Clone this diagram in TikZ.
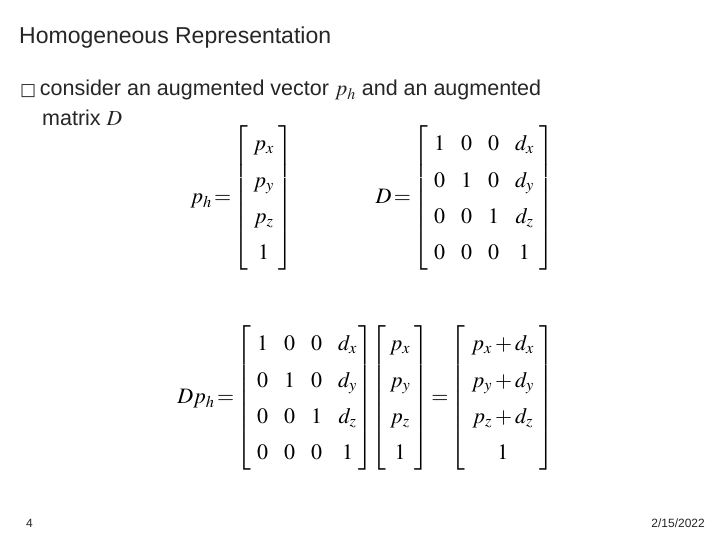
\documentclass[tikz,border=0pt]{standalone}
\usepackage{amsmath}
\usepackage{mathptmx}
\usepackage{fontspec}
\setmainfont{Liberation Sans}
\newfontfamily\symf{DejaVu Sans}
\tikzset{txt/.style={inner sep=0pt,anchor=base west,text=black!85},
 mat/.style={inner sep=0pt,font=\fontsize{22}{26}\selectfont}}
\begin{document}
\begin{tikzpicture}[x=1pt,y=-1pt]
\useasboundingbox[fill=white] (0,0) rectangle (720,540);
\node[txt,font=\fontsize{23}{26}\selectfont] (title) at (19,44) {Homogeneous Representation};
\node[txt,font=\fontsize{21.5}{24}\selectfont] (b1) at (20,96) {{\symf\fontsize{17}{18}\selectfont □}\,consider an augmented vector $p_h$ and an augmented};
\node[txt,font=\fontsize{21.5}{24}\selectfont] (b2) at (42,126) {matrix $D$};
\renewcommand{\arraystretch}{1.4}
\setlength{\arraycolsep}{8pt}
\node[mat] (ph) at (242,198) {$p_h\!=\!\left[\begin{array}{@{\hspace{5pt}}c@{\hspace{5pt}}}p_x\\p_y\\p_z\\1\end{array}\right]$};
\node[mat] (D) at (465,198) {$D\!=\!\left[\begin{array}{@{\hspace{6pt}}cccc@{\hspace{6pt}}}1&0&0&d_x\\0&1&0&d_y\\0&0&1&d_z\\0&0&0&1\end{array}\right]$};
\node[mat] (eq) at (366,398) {$Dp_h\!=\!\left[\begin{array}{@{\hspace{6pt}}cccc@{\hspace{2pt}}}1&0&0&d_x\\0&1&0&d_y\\0&0&1&d_z\\0&0&0&1\end{array}\right]\!\!\left[\begin{array}{@{\hspace{4pt}}c@{\hspace{4pt}}}p_x\\p_y\\p_z\\1\end{array}\right]\!=\!\left[\begin{array}{@{\hspace{6pt}}c@{\hspace{6pt}}}p_x+d_x\\p_y+d_y\\p_z+d_z\\1\end{array}\right]$};
\node[txt,font=\fontsize{12}{14}\selectfont] (pg) at (26,527) {4};
\node[txt,anchor=base east,font=\fontsize{12}{14}\selectfont] (date) at (705,527) {2/15/2022};
\end{tikzpicture}
\end{document}
